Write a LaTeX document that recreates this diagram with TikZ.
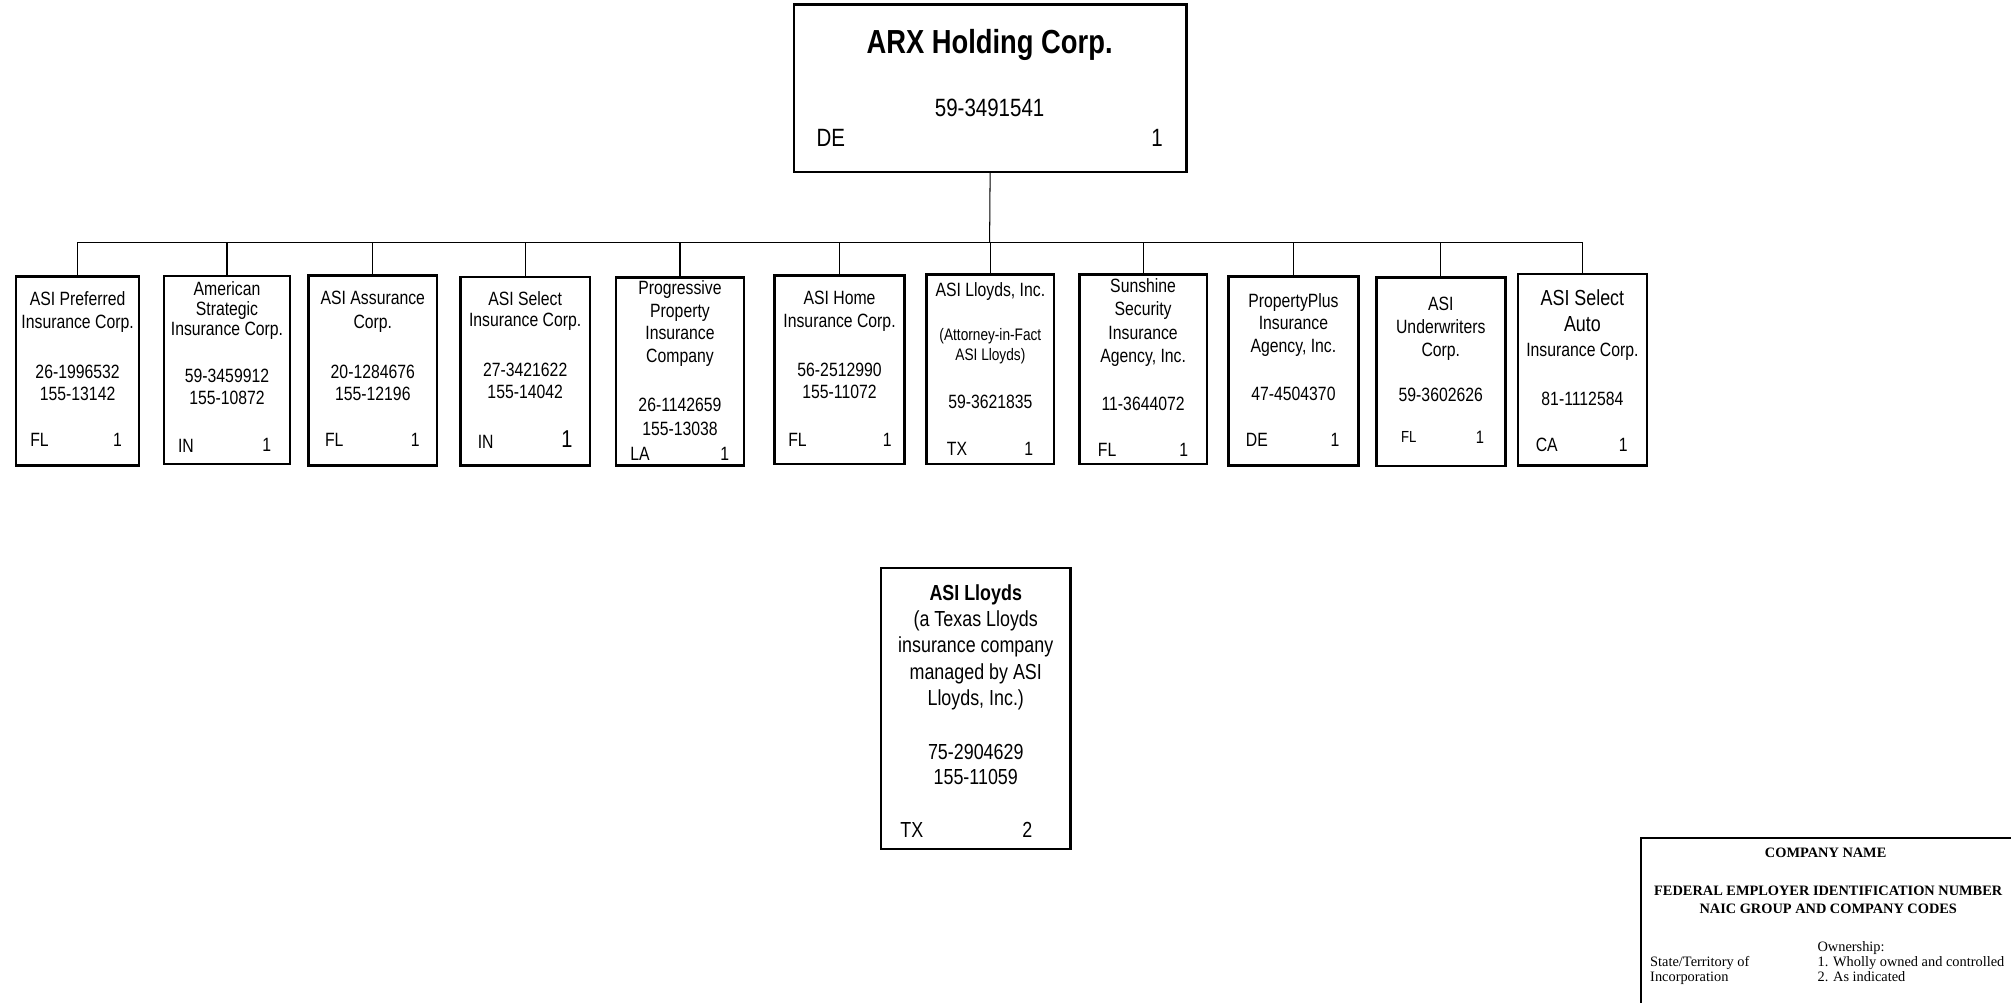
\documentclass[tikz,border=0pt]{standalone}
\usepackage{fontspec}
\setmainfont{Liberation Sans}[FakeStretch=0.82]
\newfontfamily\legendfont{Liberation Serif}
\usepackage{tikz}

\begin{document}
\begin{tikzpicture}[x=1pt,y=-1pt]

\tikzstyle{company} = [rectangle, draw=black, line width=2pt, inner sep=0pt]
\tikzstyle{title} = [align=center, inner sep=0pt, font=\fontsize{15}{18.2}\selectfont]
\tikzstyle{idnum} = [align=center, inner sep=0pt, font=\fontsize{15}{17}\selectfont]
\tikzstyle{tag} = [inner sep=0pt, font=\fontsize{15}{18}\selectfont]
\tikzstyle{link} = [line width=0.8pt]
\tikzstyle{keytext} = [inner sep=0pt, font=\legendfont\fontsize{11.2}{13.5}\selectfont]

\useasboundingbox (0,0) rectangle (1568,782);

% holding company
\node[company, minimum width=306pt, minimum height=130.5pt] (arx) at (772,68.8) {};
\node[tag, font=\bfseries\fontsize{26}{30}\selectfont] (arxname) at (771.6,35) {ARX Holding Corp.};
\node[tag, font=\fontsize{19.5}{22}\selectfont] (arxcode) at (771.6,84.4) {59-3491541};
\node[tag, font=\fontsize{19.5}{22}\selectfont] (arxstate) at (647.8,107.7) {DE};
\node[tag, font=\fontsize{19.5}{22}\selectfont] (arxown) at (902.2,107.7) {1};

% subsidiaries
\node[company, minimum width=96pt, minimum height=147.5pt] (c1) at (60.5,289.3) {};
\node[company, minimum width=98.5pt, minimum height=146.7pt] (c2) at (177,288.4) {};
\node[company, minimum width=100pt, minimum height=148pt] (c3) at (290.7,289) {};
\node[company, minimum width=101pt, minimum height=147pt] (c4) at (409.5,289.5) {};
\node[company, minimum width=99.5pt, minimum height=146.7pt] (c5) at (530.2,289.7) {};
\node[company, minimum width=101.6pt, minimum height=147pt] (c6) at (654.6,288.2) {};
\node[company, minimum width=99.4pt, minimum height=147.7pt] (c7) at (772.2,287.9) {};
\node[company, minimum width=99.4pt, minimum height=147.7pt] (c8) at (891.3,287.9) {};
\node[company, minimum width=101.5pt, minimum height=147.5pt] (c9) at (1008.5,289.3) {};
\node[company, minimum width=100.7pt, minimum height=147pt] (c10) at (1123.4,290) {};
\node[company, minimum width=100.5pt, minimum height=149.3pt] (c11) at (1233.8,288.4) {};

\node[title] (c1name) at (60.5,243.1) {ASI Preferred\\Insurance Corp.};
\node[idnum] (c1code) at (60.5,298.4) {26-1996532\\155-13142};
\node[tag] (c1state) at (30.8,343.2) {FL};
\node[tag] (c1own) at (91.6,343.2) {1};

\node[title, font=\fontsize{15}{15.6}\selectfont] (c2name) at (177,241.8) {American\\Strategic\\Insurance Corp.};
\node[idnum] (c2code) at (177,301.6) {59-3459912\\155-10872};
\node[tag] (c2state) at (145,347.6) {IN};
\node[tag] (c2own) at (208,347.1) {1};

\node[title] (c3name) at (290.7,243.1) {ASI Assurance\\Corp.};
\node[idnum] (c3code) at (290.7,298.4) {20-1284676\\155-12196};
\node[tag] (c3state) at (260.6,343.2) {FL};
\node[tag] (c3own) at (323.8,343.2) {1};

\node[title, font=\fontsize{15}{17}\selectfont] (c4name) at (409.5,242.5) {ASI Select\\Insurance Corp.};
\node[idnum] (c4code) at (409.5,297) {27-3421622\\155-14042};
\node[tag] (c4state) at (378.7,344.5) {IN};
\node[tag, font=\fontsize{19}{22}\selectfont] (c4own) at (442,342) {1};

\node[title, font=\fontsize{15}{17.8}\selectfont] (c5name) at (530.2,252.3) {Progressive\\Property\\Insurance\\Company};
\node[idnum, font=\fontsize{15}{18.1}\selectfont] (c5code) at (530.2,325) {26-1142659\\155-13038};
\node[tag] (c5state) at (499,353.6) {LA};
\node[tag] (c5own) at (565,353.6) {1};

\node[title, font=\fontsize{15}{18}\selectfont] (c6name) at (654.6,243) {ASI Home\\Insurance Corp.};
\node[idnum] (c6code) at (654.6,297) {56-2512990\\155-11072};
\node[tag] (c6state) at (621.8,343) {FL};
\node[tag] (c6own) at (691.8,343) {1};

\node[tag] (c7name) at (772.2,227.5) {ASI Lloyds, Inc.};
\node[title, font=\fontsize{13}{15.6}\selectfont] (c7note) at (772.2,269.8) {(Attorney-in-Fact\\ASI Lloyds)};
\node[tag] (c7code) at (772.2,313.3) {59-3621835};
\node[tag] (c7state) at (746.2,349.7) {TX};
\node[tag] (c7own) at (802.1,349.7) {1};

\node[title, font=\fontsize{15}{18.2}\selectfont] (c8name) at (891.3,251.5) {Sunshine\\Security\\Insurance\\Agency, Inc.};
\node[tag] (c8code) at (891.3,314.6) {11-3644072};
\node[tag] (c8state) at (863.2,351) {FL};
\node[tag] (c8own) at (923,351) {1};

\node[title, font=\fontsize{15}{17.6}\selectfont] (c9name) at (1008.5,253.3) {PropertyPlus\\Insurance\\Agency, Inc.};
\node[tag] (c9code) at (1008.5,306.8) {47-4504370};
\node[tag] (c9state) at (980,343) {DE};
\node[tag] (c9own) at (1041,343) {1};

\node[title, font=\fontsize{15}{17.8}\selectfont] (c10name) at (1123.4,256.5) {ASI\\Underwriters\\Corp.};
\node[tag] (c10code) at (1123.4,308) {59-3602626};
\node[tag, font=\fontsize{12.5}{15}\selectfont] (c10state) at (1098.5,340.6) {FL};
\node[tag, font=\fontsize{14}{16}\selectfont] (c10own) at (1154,340.6) {1};

\node[title, font=\fontsize{17}{20.7}\selectfont] (c11name) at (1233.8,242.3) {ASI Select\\Auto};
\node[tag] (c11line) at (1233.8,274) {Insurance Corp.};
\node[tag] (c11code) at (1233.8,310.7) {81-1112584};
\node[tag] (c11state) at (1206,347) {CA};
\node[tag] (c11own) at (1265.7,347) {1};

% lloyds company (managed, not owned)
\node[company, minimum width=147.5pt, minimum height=219pt] (lloyds) at (760.8,552.5) {};
\node[tag, font=\bfseries\fontsize{17}{20}\selectfont] (lloydsname) at (760.8,463.5) {ASI Lloyds};
\node[title, font=\fontsize{17}{20.7}\selectfont] (lloydsnote) at (760.8,515) {(a Texas Lloyds\\insurance company\\managed by ASI\\Lloyds, Inc.)};
\node[idnum, font=\fontsize{17}{20}\selectfont] (lloydscode) at (760.8,596) {75-2904629\\155-11059};
\node[tag, font=\fontsize{17}{20}\selectfont] (lloydsstate) at (711,647) {TX};
\node[tag, font=\fontsize{17}{20}\selectfont] (lloydsown) at (801,647) {2};

% ownership lines
\coordinate (bus) at (771.6,189);
\draw[link] (arx.south) -- (bus);
\draw[link] (c1.north |- bus) -- (c11.north |- bus);
\foreach \i in {1,...,11}
  \draw[link] (c\i.north) -- (c\i.north |- bus);

% key
\node[company, line width=1.6pt, anchor=north west, minimum width=400pt, minimum height=200pt] (key) at (1279,652.6) {};
\node[keytext, font=\legendfont\bfseries\fontsize{11.2}{13.5}\selectfont] (keyname) at (1423.5,664.8) {COMPANY NAME};
\node[keytext, align=center, font=\legendfont\bfseries\fontsize{11.2}{13.5}\selectfont] (keycodes) at (1425.5,701.5) {FEDERAL EMPLOYER IDENTIFICATION NUMBER\\NAIC GROUP AND COMPANY CODES};
\node[keytext, anchor=base west] (keyown) at (1417,741.6) {Ownership:};
\node[keytext, anchor=base west] (keystate) at (1286.5,753.8) {State/Territory of};
\node[keytext, anchor=base west] (keyinc) at (1286.5,765) {Incorporation};
\node[keytext, anchor=base west] (keyone) at (1417,753.8) {1. Wholly owned and controlled};
\node[keytext, anchor=base west] (keytwo) at (1417,765) {2. As indicated};

\end{tikzpicture}
\end{document}
